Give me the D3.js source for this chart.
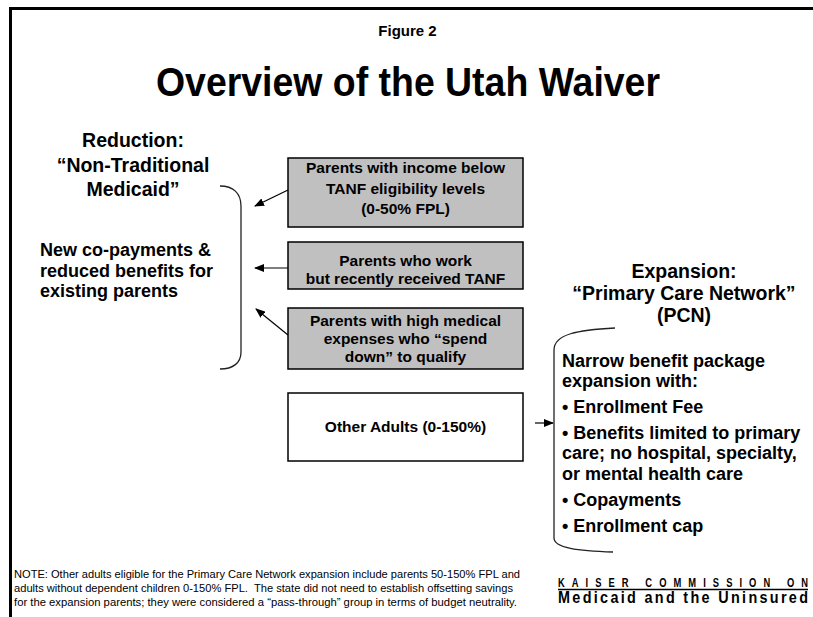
<!DOCTYPE html>
<html>
<head>
<meta charset="utf-8">
<script src="https://cdn.jsdelivr.net/npm/d3@7"></script>
<style>
  body { margin: 0; background: #fff; }
  svg { display: block; font-family: 'Liberation Sans', Arial, sans-serif; }
</style>
</head>
<body>
<div id="chart"></div>
<script>
// diagram content
const figureLabel = 'Figure 2'
const headline = 'Overview of the Utah Waiver'
const reductionHead = ['Reduction:', '\u201cNon-Traditional', 'Medicaid\u201d']
const reductionBody = ['New co-payments &', 'reduced benefits for', 'existing parents']
const groups = [
  ['Parents with income below', 'TANF eligibility levels', '(0-50% FPL)'],
  ['Parents who work', 'but recently received TANF'],
  ['Parents with high medical', 'expenses who \u201cspend', 'down\u201d to qualify']
]
const otherGroup = ['Other Adults (0-150%)']
const expansionHead = ['Expansion:', '\u201cPrimary Care Network\u201d', '(PCN)']
const expansionBody = [
  'Narrow benefit package',
  'expansion with:',
  '\u2022 Enrollment Fee',
  '\u2022 Benefits limited to primary',
  'care; no hospital, specialty,',
  'or mental health care',
  '\u2022 Copayments',
  '\u2022 Enrollment cap'
]
const noteLines = [
  'NOTE: Other adults eligible for the Primary Care Network expansion include parents 50-150% FPL and',
  'adults without dependent children 0-150% FPL.  The state did not need to establish offsetting savings',
  'for the expansion parents; they were considered a \u201cpass-through\u201d group in terms of budget neutrality.'
]
const logoLines = ['KAISER COMMISSION ON', 'Medicaid and the Uninsured']

const width = 813
const height = 617

// layout
const boxX = [288, 523]
const boxY = [[158, 227], [242, 289], [308, 369], [393, 461]]
const boxBase = [173, 266, 326, 432]
const bodyBase = [367, 387, 413, 439, 459, 480, 506, 532]
const arrows = [
  [[288, 190], [255, 206]],
  [[288, 268], [255, 268]],
  [[288, 335], [256, 309]],
  [[535, 423], [553, 423]]
]

const svg = d3.select('#chart').append('svg')
  .attr('width', width)
  .attr('height', height)

svg.append('defs').append('marker')
  .attr('id', 'head')
  .attr('markerUnits', 'userSpaceOnUse')
  .attr('markerWidth', 10)
  .attr('markerHeight', 8)
  .attr('refX', 9)
  .attr('refY', 4)
  .attr('orient', 'auto')
  .append('path')
  .attr('d', 'M0,0 L10,4 L0,8 Z')
  .attr('fill', '#000')

// frame
svg.append('rect')
  .attr('x', 10.5).attr('y', 8.5)
  .attr('width', 900).attr('height', 700)
  .attr('fill', 'none')
  .attr('stroke', '#000')
  .attr('stroke-width', 3)

svg.append('text')
  .attr('x', 407.5).attr('y', 36)
  .attr('text-anchor', 'middle')
  .attr('font-size', 15).attr('font-weight', 'bold')
  .text(figureLabel)

svg.append('text')
  .attr('x', 408).attr('y', 96)
  .attr('text-anchor', 'middle')
  .attr('font-size', 40).attr('font-weight', 'bold')
  .attr('textLength', 504)
  .attr('lengthAdjust', 'spacingAndGlyphs')
  .text(headline)

function lines (arr, x, y0, step, size, anchor) {
  return svg.append('g')
    .selectAll('text')
    .data(arr)
    .enter()
    .append('text')
    .attr('x', x)
    .attr('y', (d, i) => Array.isArray(y0) ? y0[i] : y0 + i * step)
    .attr('text-anchor', anchor)
    .attr('font-size', size)
    .attr('font-weight', 'bold')
    .text(d => d)
}

lines(reductionHead, 133, 147, 24.5, 19.5, 'middle')
lines(reductionBody, 40, 256, 20.5, 18, 'start')
lines(expansionHead, 684, 278, 22, 19.5, 'middle')
lines(expansionBody, 562, bodyBase, 0, 18, 'start')

// boxes
let allGroups = groups.concat([otherGroup])
let box = svg.selectAll('.box')
  .data(allGroups)
  .enter()
  .append('g')
  .attr('class', 'box')

box.append('rect')
  .attr('x', boxX[0])
  .attr('y', (d, i) => boxY[i][0])
  .attr('width', boxX[1] - boxX[0])
  .attr('height', (d, i) => boxY[i][1] - boxY[i][0])
  .attr('fill', (d, i) => i < groups.length ? '#c0c0c0' : '#fff')
  .attr('stroke', '#000')
  .attr('stroke-width', 1.5)

box.each(function (d, i) {
  d3.select(this).selectAll('text')
    .data(d)
    .enter()
    .append('text')
    .attr('x', (boxX[0] + boxX[1]) / 2)
    .attr('y', (t, j) => boxBase[i] + j * (i === 0 ? 20.5 : 18))
    .attr('text-anchor', 'middle')
    .attr('font-size', 15.5)
    .attr('font-weight', 'bold')
    .text(t => t)
})

// arrows
svg.selectAll('.arrow')
  .data(arrows)
  .enter()
  .append('line')
  .attr('class', 'arrow')
  .attr('x1', d => d[0][0]).attr('y1', d => d[0][1])
  .attr('x2', d => d[1][0]).attr('y2', d => d[1][1])
  .attr('stroke', '#000')
  .attr('stroke-width', 1.2)
  .attr('marker-end', 'url(#head)')

// brackets
let left = d3.path()
left.moveTo(220, 186)
left.bezierCurveTo(233, 186, 241, 193, 241, 206)
left.lineTo(241, 352)
left.bezierCurveTo(241, 363, 233, 369, 220, 369)

let right = d3.path()
right.moveTo(615, 328)
right.bezierCurveTo(578, 330, 554, 334, 554, 350)
right.lineTo(554, 538)
right.bezierCurveTo(554, 548, 578, 551, 613, 552)

svg.selectAll('.brace')
  .data([left.toString(), right.toString()])
  .enter()
  .append('path')
  .attr('class', 'brace')
  .attr('d', d => d)
  .attr('fill', 'none')
  .attr('stroke', '#222')
  .attr('stroke-width', 1.3)

// footnote
svg.append('g')
  .selectAll('text')
  .data(noteLines)
  .enter()
  .append('text')
  .attr('x', 14)
  .attr('y', (d, i) => 578 + i * 14)
  .attr('font-size', 10.5)
  .attr('textLength', (d, i) => [506, 499, 503][i])
  .attr('lengthAdjust', 'spacingAndGlyphs')
  .style('white-space', 'pre')
  .text(d => d)

// logo: narrow glyphs, wide tracking
let logoRows = [
  { text: logoLines[0], y: 587, size: 12, sx: 0.78 },
  { text: logoLines[1], y: 603, size: 16, sx: 0.9 }
]
svg.selectAll('.logo')
  .data(logoRows)
  .enter()
  .append('text')
  .attr('class', 'logo')
  .attr('transform', d => 'translate(558,0) scale(' + d.sx + ',1)')
  .attr('x', 0)
  .attr('y', d => d.y)
  .attr('font-size', d => d.size)
  .attr('font-weight', 'bold')
  .attr('textLength', d => 250 / d.sx)
  .attr('lengthAdjust', 'spacing')
  .text(d => d.text)

svg.append('line')
  .attr('x1', 558).attr('x2', 808)
  .attr('y1', 589.5).attr('y2', 589.5)
  .attr('stroke', '#000').attr('stroke-width', 1.6)
</script>
</body>
</html>
